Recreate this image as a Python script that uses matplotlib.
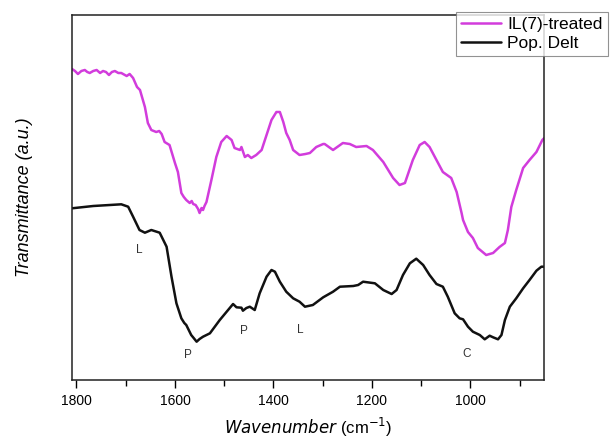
import matplotlib
matplotlib.use('Agg')
import matplotlib.pyplot as plt
from matplotlib.ticker import MultipleLocator

plt.rcParams['font.family'] = ['Liberation Sans', 'DejaVu Sans']

# IL(7)-treated spectrum (wavenumber, transmittance a.u.)
wn_il = [1809, 1803, 1797, 1790, 1783, 1778, 1773, 1766, 1759, 1752, 1746, 1740, 1734,
         1728, 1722, 1715, 1709, 1698, 1692, 1685, 1677, 1671, 1661, 1655, 1648, 1638,
         1632, 1627, 1621, 1611, 1600, 1594, 1587, 1582, 1577, 1570, 1566, 1563, 1558,
         1553, 1550, 1546, 1543, 1540, 1536, 1526, 1516, 1506, 1495, 1485, 1479, 1468,
         1465, 1458, 1452, 1445, 1435, 1424, 1414, 1404, 1394, 1387, 1380, 1374, 1367,
         1360, 1347, 1335, 1326, 1313, 1299, 1296, 1279, 1259, 1245, 1232, 1211, 1198,
         1177, 1157, 1144, 1133, 1117, 1103, 1093, 1083, 1069, 1056, 1039, 1028, 1018,
         1015, 1005, 995, 985, 968, 954, 941, 930, 924, 917, 907, 893, 880, 866, 854, 850]
tr_il = [311, 309, 306, 309, 310, 308, 307, 309, 310, 307, 309, 308, 305,
         308, 309, 307, 307, 304, 306, 302, 293, 290, 273, 257, 250, 248,
         249, 246, 238, 235, 217, 208, 187, 183, 180, 177, 179, 176, 175,
         171, 167, 172, 170, 174, 178, 200, 223, 238, 244, 240, 232, 230,
         233, 223, 225, 222, 225, 230, 245, 260, 268, 268, 258, 247, 240,
         230, 225, 226, 227, 233, 236, 236, 230, 237, 236, 233, 234, 230,
         218, 202, 195, 197, 220, 235, 238, 233, 220, 208, 202, 188, 167,
         160, 148, 142, 132, 125, 127, 133, 137, 150, 173, 190, 212, 220, 228, 240, 242]

# Pop. Delt spectrum
wn_pd = [1809, 1766, 1709, 1695, 1685, 1672, 1661, 1648, 1631, 1617, 1607, 1597, 1587,
         1581, 1577, 1572, 1567, 1562, 1556, 1550, 1543, 1529, 1509, 1495, 1482, 1475,
         1465, 1462, 1455, 1448, 1438, 1428, 1414, 1404, 1397, 1387, 1374, 1360, 1347,
         1336, 1320, 1299, 1279, 1265, 1238, 1228, 1218, 1194, 1177, 1160, 1150, 1137,
         1123, 1110, 1096, 1083, 1069, 1056, 1046, 1032, 1022, 1015, 1005, 995, 981,
         971, 961, 954, 944, 937, 930, 920, 907, 893, 880, 866, 856, 850]
tr_pd = [171.7, 174, 175.7, 173.3, 163.3, 150, 147.3, 150, 147.3, 133.3, 103.3, 76.7, 61.7,
         57, 55, 50, 45, 42, 38.3, 41, 43.3, 46.7, 60, 68.3, 76, 72.7,
         72.3, 69.3, 72, 73.3, 70, 86.7, 103.3, 110, 108.3, 98.3, 88.3, 81.7, 78.3,
         73.3, 75, 82.7, 88.3, 93.3, 94, 95, 98.3, 96.7, 90, 86, 90, 105,
         116.7, 121.3, 115, 105, 96, 93.3, 83.3, 66.7, 61.7, 60.7, 53.3, 48.3, 45,
         40.7, 44.3, 42.7, 40.7, 45, 60, 73.3, 81.7, 91.7, 100, 109.3, 113.3, 113.3]

# band assignments
band_labels = ['L', 'P', 'P', 'L', 'C']
band_wn = [1673, 1573, 1460, 1345, 1007]
band_y = [130, 25, 49, 50, 26]

fig = plt.figure(figsize=(6.14, 4.41), dpi=100)
ax = fig.add_axes([0.1173, 0.1383, 0.7692, 0.8277])

ax.plot(wn_il, tr_il, color='#d23cdc', lw=1.8, label='IL(7)-treated',
        solid_joinstyle='round', solid_capstyle='round')
ax.plot(wn_pd, tr_pd, color='#111111', lw=1.8, label='Pop. Delt',
        solid_joinstyle='round', solid_capstyle='round')

for lab, x, y in zip(band_labels, band_wn, band_y):
    ax.text(x, y, lab, ha='center', va='center', fontsize=8.5, color='#333333')

ax.set_xlim(1809, 850)
ax.set_ylim(0, 365)
ax.xaxis.set_major_locator(MultipleLocator(200))
ax.xaxis.set_minor_locator(MultipleLocator(100))
ax.tick_params(axis='x', which='major', direction='out', length=6, width=1, labelsize=10, pad=4)
ax.tick_params(axis='x', which='minor', direction='out', length=4, width=1)
ax.set_yticks([])
for s in ax.spines.values():
    s.set_linewidth(1.1)
    s.set_color('#222222')

ax.set_xlabel(r'$\it{Wavenumber}$ (cm$^{-1}$)', fontsize=12, labelpad=6)
ax.set_ylabel('Transmittance (a.u.)', fontsize=13, style='italic', labelpad=28)

leg = fig.legend(loc='upper left', bbox_to_anchor=(456 / 614, 1 - 12 / 441), fontsize=12.5,
                 frameon=True, fancybox=False, edgecolor='#777777', borderaxespad=0,
                 handlelength=2.3, handletextpad=0.35, labelspacing=0.2, borderpad=0.3)
leg.get_frame().set_linewidth(0.8)

fig.savefig('out.png', dpi=100)
